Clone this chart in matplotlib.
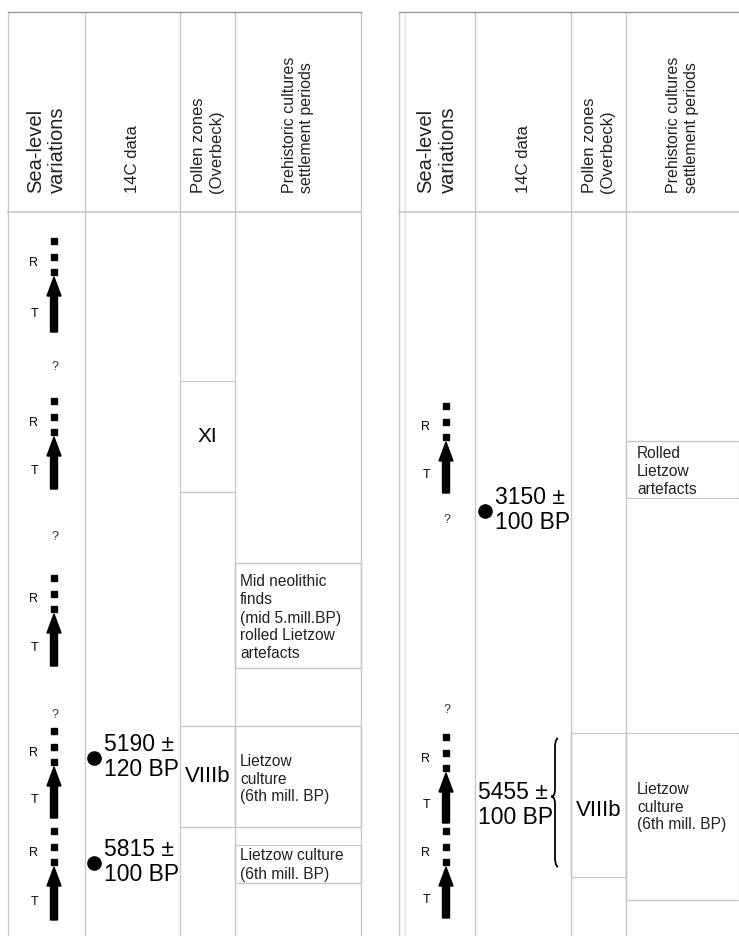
import matplotlib.pyplot as plt
from matplotlib.path import Path
from matplotlib.patches import PathPatch, Rectangle

plt.rcParams['font.family'] = ['Liberation Sans', 'DejaVu Sans']

# table layout (pixel units, y grows downwards)
left_cols = [8, 85, 180, 235, 361]
right_cols = [399, 475, 571, 626, 739]
top_y = 12
head_y = 212
headers = ["Sea-level\nvariations", "14C data", "Pollen zones\n(Overbeck)",
           "Prehistoric cultures\nsettlement periods"]
header_sizes = [14.5, 12, 12, 11.5]

# sea-level cycles: (first dot y, arrow bottom y)
left_cycles = [(241, 332), (401, 489), (578, 666), (731, 818), (831, 920)]
right_cycles = [(406, 493), (737, 823), (831, 918)]
left_questions = [367, 537, 715]
right_questions = [520, 710]

# 14C dates: (label, y)
left_dates = [("5190 ±\n120 BP", 758), ("5815 ±\n100 BP", 863)]
right_dates = [("3150 ±\n100 BP", 511)]
brace_label = "5455 ±\n100 BP"
brace_span = (738, 867)
brace_text_y = 805

# pollen zones: (label, top, bottom)
left_pollen = [("XI", 381, 492), ("VIIIb", 726, 827)]
right_pollen = [("VIIIb", 733, 877)]

# cultures: (text, top, bottom, text centre y)
left_cultures = [("Mid neolithic\nfinds\n(mid 5.mill.BP)\nrolled Lietzow\nartefacts", 563, 668, 618),
                 ("Lietzow\nculture\n(6th mill. BP)", 726, 827, 779),
                 ("Lietzow culture\n(6th mill. BP)", 845, 883, 865)]
right_cultures = [("Rolled\nLietzow\nartefacts", 441, 498, 472),
                  ("Lietzow\nculture\n(6th mill. BP)", 733, 900, 807)]

grid_c = '#c8c8c8'

fig = plt.figure(figsize=(7.39, 9.36), dpi=100)
ax = fig.add_axes([0, 0, 1, 1])
ax.set_xlim(0, 739)
ax.set_ylim(936, 0)
ax.axis('off')


def draw_frame(cols):
    for x in cols:
        if x < 739:
            ax.plot([x, x], [top_y, 936], color=grid_c, lw=1)
    ax.plot([cols[0], cols[-1]], [top_y, top_y], color='#999999', lw=1)
    ax.plot([cols[0], cols[-1]], [head_y, head_y], color=grid_c, lw=1.2)
    for i, h in enumerate(headers):
        cx = (cols[i] + cols[i + 1]) / 2
        ax.text(cx, 193, h, rotation=90, ha='center', va='bottom',
                multialignment='left', fontsize=header_sizes[i], color='#222222')


def draw_cycles(cycles, questions, x):
    for d0, bottom in cycles:
        dots = [d0, d0 + 15.5, d0 + 31]
        ax.plot([x] * 3, dots, 's', color='black', ms=4.8)
        top = dots[-1] + 5
        ax.arrow(x, bottom, 0, top - bottom, width=7, head_width=14,
                 head_length=19, length_includes_head=True, color='black')
        ax.text(x - 20, dots[1] + 6, "R", ha='center', va='center', fontsize=9)
        ax.text(x - 19, bottom - 18, "T", ha='center', va='center', fontsize=9)
    for q in questions:
        ax.text(x + 1, q, "?", ha='center', va='center', fontsize=9, color='#333333')


def draw_dates(dates, x):
    for label, y in dates:
        ax.plot(x, y, 'o', color='black', ms=9.5)
        ax.text(x + 10, y - 1, label, ha='left', va='center', fontsize=16.5,
                linespacing=1.15)


def draw_boxes(items, x0, x1, text_x, size):
    for label, t, b, ty in items:
        ax.add_patch(Rectangle((x0, t), x1 - x0, b - t, fill=False,
                               edgecolor=grid_c, lw=1))
        ax.text(text_x, ty, label, ha='left', va='center', fontsize=size,
                linespacing=1.25, color='#222222')


def draw_brace(x, y0, y1):
    ym = (y0 + y1) / 2 - 6
    verts = [(x + 3, y0), (x, y0 + 2), (x, y0 + 6), (x, y0 + 12),
             (x, ym - 8),
             (x, ym - 3), (x - 1, ym), (x - 4, ym),
             (x - 1, ym), (x, ym + 3), (x, ym + 8),
             (x, y1 - 12),
             (x, y1 - 6), (x, y1 - 2), (x + 3, y1)]
    codes = [Path.MOVETO, Path.CURVE4, Path.CURVE4, Path.CURVE4,
             Path.LINETO,
             Path.CURVE4, Path.CURVE4, Path.CURVE4,
             Path.CURVE4, Path.CURVE4, Path.CURVE4,
             Path.LINETO,
             Path.CURVE4, Path.CURVE4, Path.CURVE4]
    ax.add_patch(PathPatch(Path(verts, codes), fill=False, lw=1.3, color='black'))


# left panel
draw_frame(left_cols)
draw_cycles(left_cycles, left_questions, left_cols[0] + 46)
draw_dates(left_dates, left_cols[1] + 9)
for label, t, b in left_pollen:
    ax.plot([left_cols[2], left_cols[3]], [t, t], color=grid_c, lw=1)
    ax.plot([left_cols[2], left_cols[3]], [b, b], color=grid_c, lw=1)
    ax.text((left_cols[2] + left_cols[3]) / 2, (t + b) / 2, label, ha='center',
            va='center', fontsize=16 if label != "XI" else 15)
draw_boxes(left_cultures, left_cols[3], left_cols[4], left_cols[3] + 5, 11.2)

# right panel
ax.plot([right_cols[0] + 6] * 2, [top_y, 936], color='#e2e2e2', lw=1)
draw_frame(right_cols)
draw_cycles(right_cycles, right_questions, right_cols[0] + 47)
draw_dates(right_dates, right_cols[1] + 10)
ax.text(right_cols[1] + 3, brace_text_y, brace_label,
        ha='left', va='center', fontsize=16.5, linespacing=1.12)
draw_brace(555, brace_span[0], brace_span[1])
for label, t, b in right_pollen:
    ax.add_patch(Rectangle((right_cols[2], t), right_cols[3] - right_cols[2], b - t,
                           fill=False, edgecolor=grid_c, lw=1))
    ax.text((right_cols[2] + right_cols[3]) / 2, (t + b) / 2 + 5, label,
            ha='center', va='center', fontsize=16)
draw_boxes(right_cultures, right_cols[3], right_cols[4], right_cols[3] + 11, 11.2)

fig.savefig('out.png', dpi=100)
